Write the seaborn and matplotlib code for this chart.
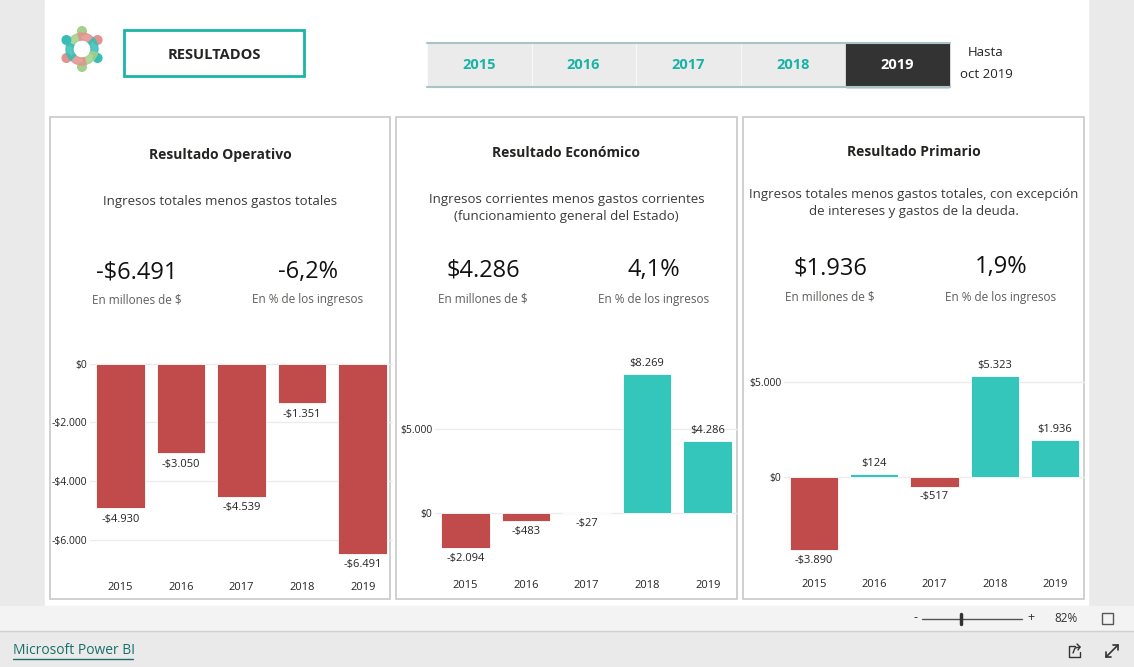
import numpy as np
import pandas as pd
import matplotlib
matplotlib.use("Agg")
import matplotlib.pyplot as plt
import matplotlib.patches as mpatches
import seaborn as sns

# data
years = ["2015", "2016", "2017", "2018", "2019"]
operativo = [-4930, -3050, -4539, -1351, -6491]
economico = [-2094, -483, -27, 8269, 4286]
primario = [-3890, 124, -517, 5323, 1936]

panel_titles = ["Resultado Operativo", "Resultado Económico", "Resultado Primario"]
panel_subtitles = [
    "Ingresos totales menos gastos totales",
    "Ingresos corrientes menos gastos corrientes\n(funcionamiento general del Estado)",
    "Ingresos totales menos gastos totales, con excepción\nde intereses y gastos de la deuda.",
]
kpi_amount = ["-$6.491", "$4.286", "$1.936"]
kpi_pct = ["-6,2%", "4,1%", "1,9%"]

RED = "#c04b4a"
TEAL = "#34c6bb"
W, H = 1134, 667

sns.set_theme(style="white")
plt.rcParams["font.family"] = ["Open Sans", "DejaVu Sans"]

fig = plt.figure(figsize=(W / 100, H / 100), dpi=100)


def box(x0, y0, x1, y1):
    return [x0 / W, 1 - y1 / H, (x1 - x0) / W, (y1 - y0) / H]


bg = fig.add_axes([0, 0, 1, 1], zorder=0)
bg.set_xlim(0, W)
bg.set_ylim(H, 0)
bg.axis("off")

# page background + canvas
bg.add_patch(mpatches.Rectangle((0, 0), W, H, color="#eaeaea", zorder=0))
bg.add_patch(mpatches.Rectangle((45, 0), 1043, 605, color="white", zorder=1))
bg.add_patch(mpatches.Rectangle((0, 606), W, 24, color="#f3f3f3", zorder=1))
bg.plot([0, W], [630.5, 630.5], color="#d0d0d0", lw=1, zorder=2)

# logo: six little figures around a ring
cx, cy = 82, 49
logo_angles = [90, 30, -30, 270, 210, 150]
logo_cols = ["#a3d08a", "#e3928f", "#38bdb6", "#a3d08a", "#e3928f", "#38bdb6"]
for a, c in zip(logo_angles, logo_cols):
    bg.add_patch(mpatches.Wedge((cx, cy), 16, -a - 75, -a - 5, width=7, color=c,
                                alpha=0.85, zorder=3))
    r = np.deg2rad(a)
    bg.add_patch(mpatches.Circle((cx + 18 * np.cos(r), cy - 18 * np.sin(r)), 4.3,
                                 color=c, zorder=3))
bg.add_patch(mpatches.Circle((cx, cy), 6, color="white", zorder=4))

# RESULTADOS box
bg.add_patch(mpatches.Rectangle((124, 30), 180, 46, fill=False, ec="#1ab5a6", lw=2, zorder=3))
bg.text(214, 55, "RESULTADOS", ha="center", va="center", fontsize=10.5,
        fontweight="bold", color="#252423", zorder=4)

# year slicer
for i, y in enumerate(years):
    x0 = 427 + i * 104.6
    sel = y == "2019"
    bg.add_patch(mpatches.Rectangle((x0 + 1, 43), 102.6, 44,
                                    color="#333333" if sel else "#ebebeb", zorder=3))
    bg.text(x0 + 52, 65, y, ha="center", va="center", fontsize=10.5, fontweight="bold",
            color="white" if sel else "#19b3a5", zorder=4)
bg.plot([427, 950], [43, 43], color="#a9c3c8", lw=1.5, zorder=4)
bg.plot([427, 950], [86.5, 86.5], color="#a9c3c8", lw=1.5, zorder=4)
bg.text(986, 53, "Hasta", ha="center", va="center", fontsize=9.5, color="#252423", zorder=4)
bg.text(986, 75, "oct 2019", ha="center", va="center", fontsize=9.5, color="#252423", zorder=4)

# panels
panels = [(50, 390), (396, 737), (743, 1084)]
kpi_y = [(273, 300), (271, 299), (268, 297)]
title_y = [155, 153, 152]
sub_y = [202, 208, 203]
for k, (x0, x1) in enumerate(panels):
    bg.add_patch(mpatches.Rectangle((x0, 117), x1 - x0, 482, fill=False, ec="#c8c8c8",
                                    lw=1.2, zorder=3))
    xm = (x0 + x1) / 2
    bg.text(xm, title_y[k], panel_titles[k], ha="center", va="center", fontsize=10,
            fontweight="bold", color="#252423", zorder=4)
    bg.text(xm, sub_y[k], panel_subtitles[k], ha="center", va="center", fontsize=9.5,
            color="#3a3a3a", linespacing=1.45, zorder=4)
    bg.text(x0 + 87, kpi_y[k][0], kpi_amount[k], ha="center", va="center", fontsize=17,
            color="#111111", zorder=4)
    bg.text(x0 + 258, kpi_y[k][0] - 1, kpi_pct[k], ha="center", va="center", fontsize=17,
            color="#111111", zorder=4)
    bg.text(x0 + 87, kpi_y[k][1], "En millones de $", ha="center", va="center",
            fontsize=8.5, color="#605e5c", zorder=4)
    bg.text(x0 + 258, kpi_y[k][1], "En % de los ingresos", ha="center", va="center",
            fontsize=8.5, color="#605e5c", zorder=4)

# footer
bg.text(915, 618, "-", ha="center", va="center", fontsize=9, color="#333", zorder=4)
bg.plot([922, 1022], [619, 619], color="#555", lw=1, zorder=4)
bg.plot([961, 961], [614, 624], color="#333", lw=2.5, zorder=4)
bg.text(1031, 618, "+", ha="center", va="center", fontsize=9, color="#333", zorder=4)
bg.text(1066, 618, "82%", ha="center", va="center", fontsize=8.5, color="#333", zorder=4)
bg.add_patch(mpatches.Rectangle((1102, 613), 11, 11, fill=False, ec="#555", lw=1, zorder=4))
bg.text(13, 651, "Microsoft Power BI", ha="left", va="center", fontsize=10,
        color="#1b6f6a", zorder=4)
bg.plot([13, 133], [659, 659], color="#1b6f6a", lw=1, zorder=4)
# share icon
bg.plot([1075, 1069, 1069, 1080, 1080], [646, 646, 657, 657, 652], color="#333", lw=1, zorder=4)
bg.plot([1073, 1075, 1080], [653, 648, 647], color="#333", lw=1, zorder=4)
bg.plot([1077, 1080, 1078], [644, 647, 650], color="#333", lw=1, zorder=4)
# expand icon
bg.plot([1106, 1118], [657, 645], color="#333", lw=1.2, zorder=4)
bg.plot([1113, 1118, 1118], [645, 645, 650], color="#333", lw=1.2, zorder=4)
bg.plot([1106, 1106, 1111], [652, 657, 657], color="#333", lw=1.2, zorder=4)


def money(v):
    s = f"{abs(v):,}".replace(",", ".")
    return ("-$" if v < 0 else "$") + s


# bar charts: (values, axes px box, ylim, yticks, x tick pad)
charts = [
    (operativo, (90, 355, 393, 569), (-7000, 300), [0, -2000, -4000, -6000], 9),
    (economico, (435, 362, 738, 563), (-3000, 9000), [0, 5000], 12),
    (primario, (784, 363, 1085, 562), (-4500, 6000), [0, 5000], 12),
]
for vals, (x0, y0, x1, y1), ylim, yt, pad in charts:
    ax = fig.add_axes(box(x0, y0, x1, y1), zorder=5)
    df = pd.DataFrame({"year": years, "value": vals,
                       "sign": ["neg" if v < 0 else "pos" for v in vals]})
    sns.barplot(data=df, x="year", y="value", hue="sign", dodge=False, legend=False,
                palette={"neg": RED, "pos": TEAL}, width=0.8, saturation=1, ax=ax,
                edgecolor="white", linewidth=0.6)
    ax.set_ylim(*ylim)
    ax.set_xlim(-0.5, 4.5)
    ax.set_facecolor("none")
    ax.set_yticks(yt)
    ax.set_yticklabels([money(v) for v in yt])
    ax.yaxis.grid(True, color="#ececec", lw=1)
    ax.set_axisbelow(True)
    for s in ax.spines.values():
        s.set_visible(False)
    ax.set_xlabel("")
    ax.set_ylabel("")
    ax.tick_params(axis="x", length=0, pad=pad, labelsize=8, labelcolor="#252423")
    ax.tick_params(axis="y", length=0, pad=2, labelsize=7.5, labelcolor="#252423")
    span = ylim[1] - ylim[0]
    for i, v in enumerate(vals):
        off = span * 0.025
        ax.text(i, v - off if v < 0 else v + off, money(v), ha="center",
                va="top" if v < 0 else "bottom", fontsize=8, color="#252423", clip_on=False)

fig.savefig("out.png", dpi=100)
